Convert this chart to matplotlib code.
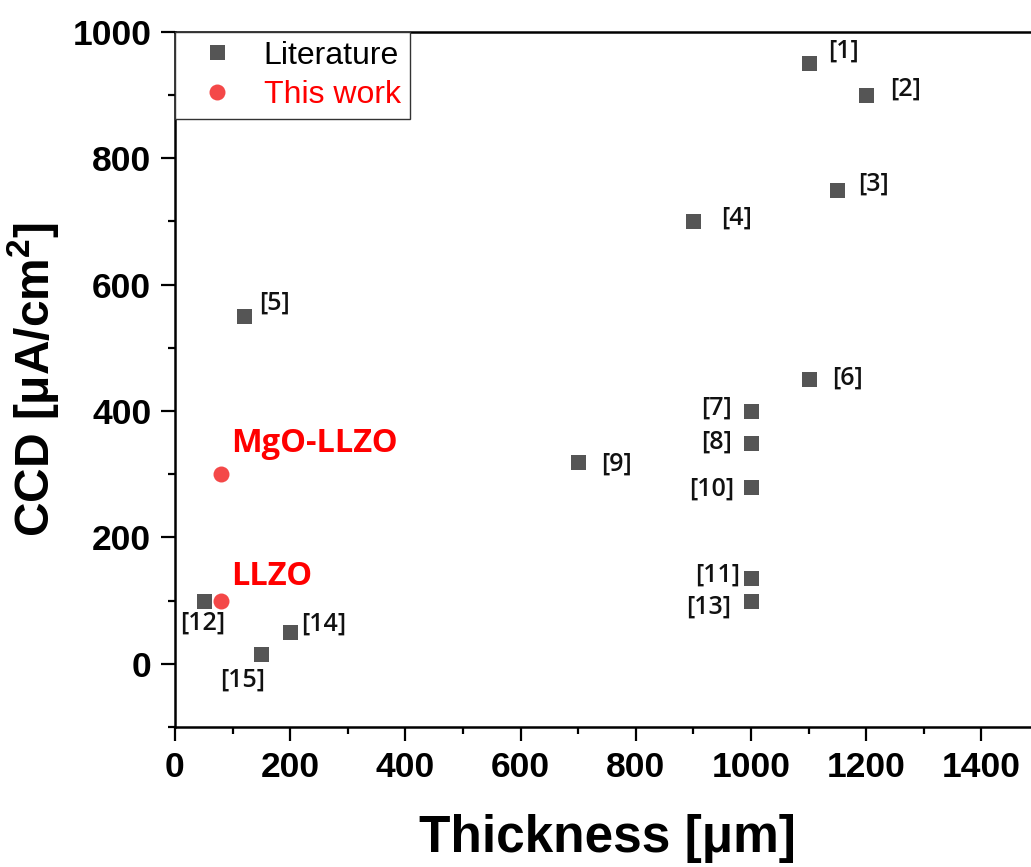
import matplotlib
matplotlib.use("Agg")
import matplotlib.pyplot as plt
from matplotlib.ticker import MultipleLocator

# ---- data -------------------------------------------------------------
lit_refs = ["[1]", "[2]", "[3]", "[4]", "[5]", "[6]", "[7]", "[8]",
            "[9]", "[10]", "[11]", "[12]", "[13]", "[14]", "[15]"]
lit_thickness = [1100, 1200, 1150, 900, 120, 1100, 1000, 1000,
                 700, 1000, 1000, 50, 1000, 200, 150]
lit_ccd = [950, 900, 750, 700, 550, 450, 400, 350,
           320, 280, 135, 100, 100, 50, 15]

work_names = ["MgO-LLZO", "LLZO"]
work_thickness = [80, 80]
work_ccd = [300, 100]

x_ticks = [0, 200, 400, 600, 800, 1000, 1200, 1400]
y_ticks = [0, 200, 400, 600, 800, 1000]

# ---- style ------------------------------------------------------------
plt.rcParams["font.family"] = ["Liberation Sans", "DejaVu Sans"]
plt.rcParams["mathtext.fontset"] = "custom"
plt.rcParams["mathtext.bf"] = "Liberation Sans:bold"
plt.rcParams["mathtext.rm"] = "Liberation Sans:bold"
plt.rcParams["mathtext.default"] = "bf"

GRAY = "#555555"
RED = "#F44848"
LABEL_FONT = ["Open Sans", "DejaVu Sans"]

fig = plt.figure(figsize=(10.31, 8.67), dpi=100)
# the axes run a little past the right border of the canvas
ax = fig.add_axes([0.1697, 0.1615, 0.838, 0.8019])

ax.plot(lit_thickness, lit_ccd, linestyle="none", marker="s",
        markersize=10.8, color=GRAY, markeredgewidth=0, label="Literature",
        zorder=3)
ax.plot(work_thickness, work_ccd, linestyle="none", marker="o",
        markersize=11.5, color=RED, markeredgewidth=0, label="This work",
        zorder=4)

# label offsets in pixels relative to each marker
ref_offsets = {
    "[1]": (20, 12, "left"), "[2]": (24, 6, "left"), "[3]": (21, 6, "left"),
    "[4]": (28, 3, "left"), "[5]": (15, 13, "left"), "[6]": (24, 1, "left"),
    "[7]": (-19, 3, "right"), "[8]": (-19, 0, "right"),
    "[9]": (23, -3, "left"), "[10]": (-17, -2, "right"),
    "[11]": (-11, 3, "right"), "[12]": (-1, -23, "center"),
    "[13]": (-20, -7, "right"), "[14]": (11, 8, "left"),
    "[15]": (-19, -26, "center"),
}
for ref, x, y in zip(lit_refs, lit_thickness, lit_ccd):
    dx, dy, ha = ref_offsets[ref]
    ax.annotate(ref, (x, y), xytext=(dx, dy), textcoords="offset pixels",
                ha=ha, va="center", fontsize=18, family=LABEL_FONT,
                fontweight="semibold", color="#111111")

work_offsets = {"MgO-LLZO": (10, 31), "LLZO": (10, 24)}
for name, x, y in zip(work_names, work_thickness, work_ccd):
    dx, dy = work_offsets[name]
    ax.annotate(name, (x, y), xytext=(dx, dy), textcoords="offset pixels",
                ha="left", va="center", fontsize=23.5, family=LABEL_FONT,
                fontweight="bold", color="#FF0000")

# ---- axes -------------------------------------------------------------
ax.set_xlim(0, 1500)
ax.set_ylim(-100, 1000)
ax.set_xticks(x_ticks)
ax.set_yticks(y_ticks)
ax.xaxis.set_minor_locator(MultipleLocator(100))
ax.yaxis.set_minor_locator(MultipleLocator(100))

for side in ("left", "bottom", "top", "right"):
    ax.spines[side].set_linewidth(1.8)
    ax.spines[side].set_color("black")

ax.tick_params(which="major", direction="out", length=10, width=1.6,
               labelsize=25.5, pad=7, top=False, right=False)
ax.tick_params(which="minor", direction="out", length=5, width=1.6,
               top=False, right=False)
for lab in ax.get_xticklabels() + ax.get_yticklabels():
    lab.set_fontweight("bold")

ax.set_xlabel("Thickness [μm]", fontsize=37, fontweight="bold", labelpad=22)
ax.set_ylabel(r"CCD [μA/cm$^2$]", fontsize=34.5, fontweight="bold", labelpad=8)

leg = ax.legend(loc="upper left", bbox_to_anchor=(0, 1), borderaxespad=0,
                fontsize=23, frameon=True, fancybox=False, framealpha=1,
                edgecolor="#333333", borderpad=0.28, handlelength=2.1,
                handletextpad=0.4, labelspacing=0.3)
leg.get_frame().set_linewidth(1.0)
leg.get_texts()[1].set_color("#FF0000")

fig.savefig("out.png", dpi=100)
